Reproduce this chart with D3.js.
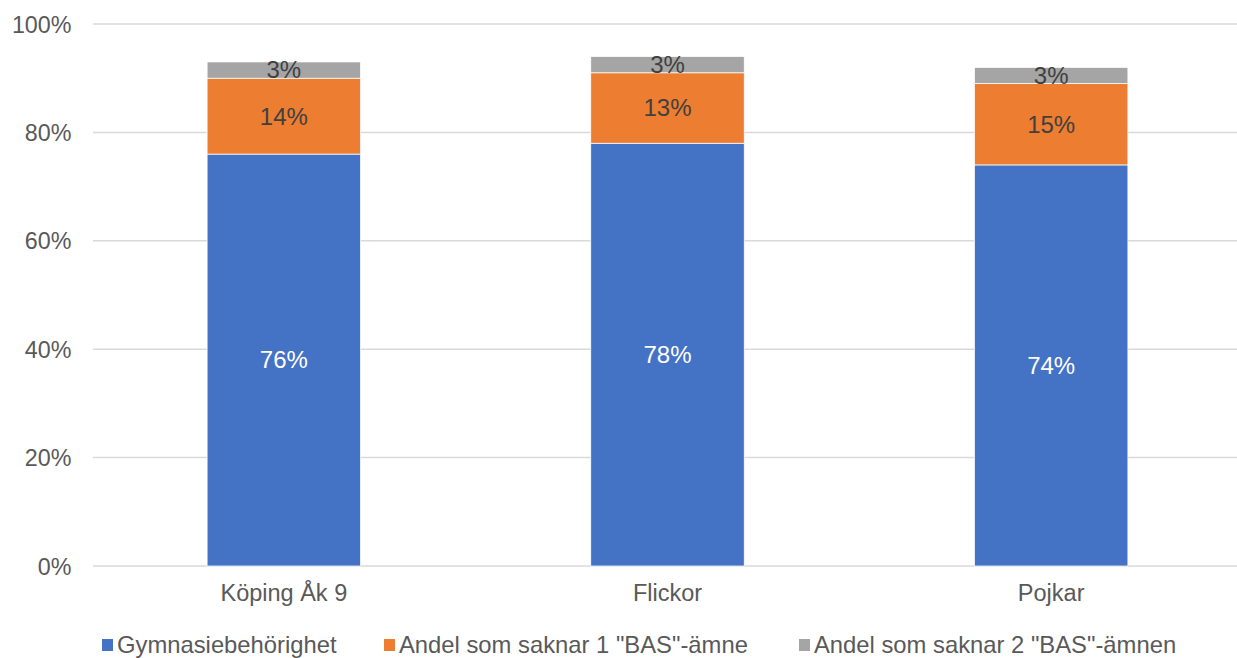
<!DOCTYPE html>
<html><head><meta charset="utf-8">
<script src="https://cdn.jsdelivr.net/npm/d3@7"></script>
<style>body{margin:0;background:#fff}svg{display:block;font-family:"Liberation Sans",Arial,sans-serif}</style>
</head><body>
<svg id="c" width="1237" height="658"></svg>
<script>
const categories = ["Köping Åk 9", "Flickor", "Pojkar"];
const seriesNames = ["Gymnasiebehörighet", "Andel som saknar 1 \"BAS\"-ämne", "Andel som saknar 2 \"BAS\"-ämnen"];
const gymnasie = [76, 78, 74];
const saknar1 = [14, 13, 15];
const saknar2 = [3, 3, 3];
const yTicks = [0, 20, 40, 60, 80, 100];
const colors = ["#4472C4", "#ED7D31", "#A5A5A5"];
const labelColors = ["#ffffff", "#404040", "#404040"];

const svg = d3.select("#c");
const x = d3.scaleBand().domain(categories).range([92, 1243]).paddingInner(0.6).paddingOuter(0.3);
const y = d3.scaleLinear().domain([0, 100]).range([566, 24]);

const rows = categories.map((c, i) => ({cat: c, s0: gymnasie[i], s1: saknar1[i], s2: saknar2[i]}));
const stack = d3.stack().keys(["s0", "s1", "s2"])(rows);

// y axis labels
const yAxis = d3.axisLeft(y).tickValues(yTicks).tickFormat(d => d + "%").tickSize(0).tickPadding(0);
const ga = svg.append("g").attr("transform", "translate(71.5,0)").call(yAxis);
ga.select(".domain").remove();
ga.selectAll("text").attr("fill", "#595959").attr("font-size", 23.3).attr("font-family", "Liberation Sans, Arial, sans-serif").attr("dy", "0.35em");

// gridlines
svg.append("g").selectAll("line").data(yTicks).join("line")
  .attr("x1", 93).attr("x2", 1237)
  .attr("y1", d => y(d)).attr("y2", d => y(d))
  .attr("stroke", "#d9d9d9").attr("stroke-width", 1.5);

// bars
const layers = svg.append("g").selectAll("g").data(stack).join("g")
  .attr("fill", (d, i) => colors[i]);
layers.selectAll("rect").data(d => d).join("rect")
  .attr("x", d => x(d.data.cat))
  .attr("width", x.bandwidth())
  .attr("y", d => y(d[1]))
  .attr("height", d => y(d[0]) - y(d[1]))
  .attr("stroke", "#ffffff").attr("stroke-width", 0.75);

// data labels
stack.forEach((layer, li) => {
  svg.append("g").selectAll("text").data(layer).join("text")
    .attr("x", d => x(d.data.cat) + x.bandwidth() / 2)
    .attr("y", d => (y(d[0]) + y(d[1])) / 2)
    .attr("dy", "0.35em")
    .attr("text-anchor", "middle")
    .attr("font-size", 24)
    .attr("fill", labelColors[li])
    .text(d => (d[1] - d[0]) + "%");
});

// x axis labels
const xAxis = d3.axisBottom(x).tickSize(0).tickPadding(0);
const gx = svg.append("g").attr("transform", "translate(0,593)").call(xAxis);
gx.select(".domain").remove();
gx.selectAll("text").attr("fill", "#595959").attr("font-size", 23.5).attr("font-family", "Liberation Sans, Arial, sans-serif").attr("dy", "0.35em");

// legend
const legendX = [102, 384, 799];
const lg = svg.append("g").selectAll("g").data(seriesNames).join("g")
  .attr("transform", (d, i) => `translate(${legendX[i]},645)`);
lg.append("rect").attr("x", 0).attr("y", -6).attr("width", 11).attr("height", 12)
  .attr("fill", (d, i) => colors[i]);
lg.append("text").attr("x", 15).attr("dy", "0.35em").attr("font-size", 23.8).attr("fill", "#595959").text(d => d);
</script>
</body></html>
